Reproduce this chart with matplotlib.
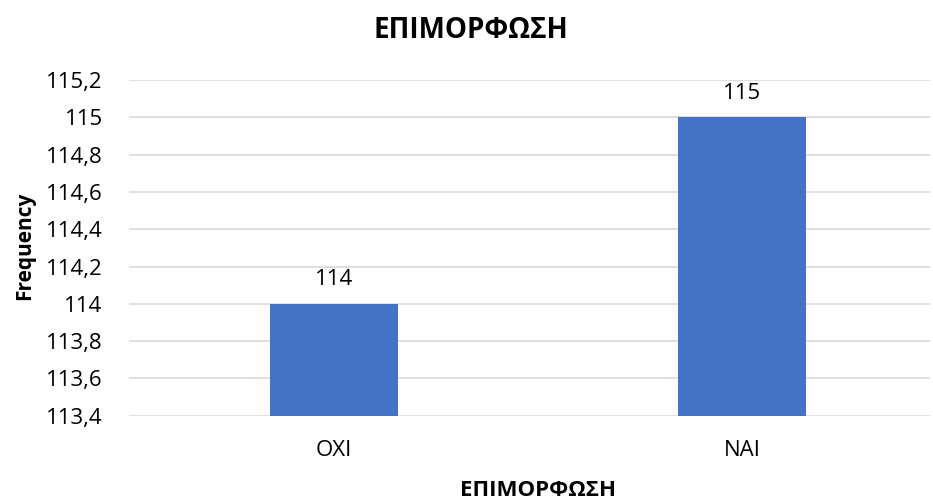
import matplotlib
matplotlib.use("Agg")
import matplotlib.pyplot as plt
from matplotlib.ticker import FuncFormatter, MultipleLocator

categories = ["ΟΧΙ", "ΝΑΙ"]
values = [114, 115]
title = "ΕΠΙΜΟΡΦΩΣΗ"
xlabel = "ΕΠΙΜΟΡΦΩΣΗ"
ylabel = "Frequency"

plt.rcParams['font.family'] = ['Open Sans', 'DejaVu Sans']

W, H = 933, 501
fig = plt.figure(figsize=(W / 100, H / 100), dpi=100)
left, right, top, bottom = 129, 930, 80, 415.7
ax = fig.add_axes([left / W, 1 - bottom / H, (right - left) / W, (bottom - top) / H])

x = list(range(len(categories)))
bars = ax.bar(x, values, width=0.314, color="#4472C4", zorder=3)
ax.set_ylim(113.4, 115.2)
ax.set_xlim(-0.502, 1.461)
ax.yaxis.set_major_locator(MultipleLocator(0.2))
ax.yaxis.set_major_formatter(FuncFormatter(lambda v, p: (f"{v:.1f}".rstrip("0").rstrip(".")).replace(".", ",")))
ax.grid(axis="y", color="#D9D9D9", linewidth=1.2, zorder=0)
for s in ax.spines.values():
    s.set_visible(False)
ax.tick_params(axis="both", length=0, labelsize=16, colors="#000000")
ax.tick_params(axis="y", pad=19)
ax.tick_params(axis="x", pad=17.5)
ax.set_xticks(x)
ax.set_xticklabels(categories)

for xi, v in zip(x, values):
    ax.annotate(f"{v}", (xi, v), xytext=(0, 13.5), textcoords="offset points",
                ha="center", va="baseline", fontsize=16, clip_on=False)

fig.text(471 / W, 1 - 38 / H, title, ha="center", va="baseline", fontsize=20, fontweight="bold")
fig.text(538 / W, 1 - 496 / H, xlabel, ha="center", va="baseline", fontsize=16, fontweight="bold")
fig.text(24.5 / W, 1 - 246 / H, ylabel, ha="center", va="center", fontsize=15, fontweight="bold", rotation=90)

fig.savefig("out.png", dpi=100)
